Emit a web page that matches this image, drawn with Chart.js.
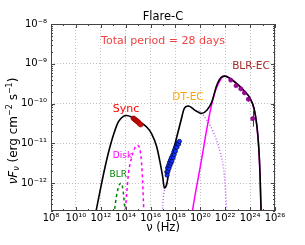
<!DOCTYPE html>
<html>
<head>
<meta charset="utf-8">
<script src="https://cdn.jsdelivr.net/npm/chart.js@4.4.1/dist/chart.umd.min.js"></script>
<style>
  html, body { margin: 0; padding: 0; background: #fff; }
  #wrap { width: 305px; height: 245px; }
</style>
</head>
<body>
<div id="wrap"><canvas id="c" width="305" height="245"></canvas></div>
<script>
// ---- data (log10 values) ----
const xTicks = [8, 10, 12, 14, 16, 18, 20, 22, 24, 26];
const yTicks = [-8, -9, -10, -11, -12];

// total model (black)
const totalNu = [11.50, 12.34, 12.88, 13.41, 13.81, 14.08, 14.49, 15.02, 15.69, 16.09, 16.50, 16.76, 16.98, 17.11, 17.30, 17.57, 17.97, 18.45, 18.70, 19.04, 19.58, 20.11, 20.52, 20.92, 21.32, 21.72, 21.99, 22.39, 22.93, 23.46, 24.00, 24.32, 24.54, 24.70, 24.80, 24.88, 24.92];
const totalF  = [-12.89, -11.60, -10.93, -10.46, -10.32, -10.30, -10.34, -10.44, -10.59, -10.76, -11.09, -11.47, -11.85, -12.12, -12.02, -11.51, -11.01, -10.42, -10.13, -10.06, -10.17, -10.25, -10.17, -9.96, -9.54, -9.33, -9.31, -9.37, -9.50, -9.66, -9.87, -10.13, -10.55, -11.13, -11.81, -12.71, -13.20];

// DT-EC component (dotted)
const dtNu = [16.92, 16.98, 17.06, 17.15, 17.30, 17.57, 17.97, 18.45, 18.70, 19.04, 19.58, 20.00, 20.52, 21.05, 21.59, 21.93, 22.12, 22.18];
const dtF  = [-12.95, -12.55, -12.28, -12.15, -12.05, -11.52, -11.01, -10.42, -10.13, -10.06, -10.17, -10.21, -10.42, -10.72, -11.22, -11.81, -12.71, -13.10];

// BLR-EC component (solid magenta)
const blrEcNu = [19.30, 19.36, 20.00, 20.78, 21.18, 21.50, 21.77, 21.99, 22.39, 22.93, 23.46, 24.00, 24.32, 24.54, 24.70, 24.80, 24.88, 24.92];
const blrEcF  = [-12.85, -12.71, -11.58, -10.21, -9.71, -9.47, -9.34, -9.31, -9.37, -9.50, -9.66, -9.87, -10.13, -10.55, -11.13, -11.81, -12.71, -13.20];

// Disk (dashed magenta)
const diskNu = [13.90, 14.00, 14.22, 14.49, 14.70, 14.92, 15.10, 15.22, 15.33, 15.42, 15.48];
const diskF  = [-12.95, -12.60, -11.77, -11.35, -11.14, -11.05, -11.10, -11.30, -11.75, -12.40, -12.95];

// BLR (dashed green)
const blrNu = [13.02, 13.10, 13.25, 13.42, 13.60, 13.75, 13.85, 13.95, 13.99];
const blrF  = [-12.95, -12.70, -12.35, -12.10, -12.00, -12.10, -12.35, -12.75, -12.95];

// observed data
const syncNu = [14.62, 14.70, 14.78, 14.86, 14.94, 15.02, 15.10, 15.20];
const syncF  = [-10.37, -10.39, -10.41, -10.43, -10.45, -10.47, -10.50, -10.53];

const xrayNu = [17.30, 17.33, 17.36, 17.40, 17.45, 17.48, 17.52, 17.56, 17.60, 17.64, 17.68, 17.72, 17.77, 17.82, 17.86, 17.90, 17.95, 18.00, 18.05, 18.12, 18.18, 18.25, 18.32];
const xrayF  = [-11.72, -11.80, -11.62, -11.70, -11.55, -11.63, -11.48, -11.56, -11.42, -11.50, -11.36, -11.44, -11.30, -11.36, -11.22, -11.28, -11.15, -11.20, -11.08, -11.10, -11.00, -11.02, -10.95];

const fermiNu  = [22.44, 22.87, 23.25, 23.54, 23.86, 24.21];
const fermiF   = [-9.41, -9.55, -9.63, -9.73, -9.89, -10.38];
const fermiErr = [0.03, 0.03, 0.04, 0.05, 0.06, 0.20];

// ---- helpers ----
const pts = (xs, ys) => xs.map((v, i) => ({x: v, y: ys[i]}));
const SUP = {'-': '\u207B', '0': '\u2070', '1': '\u00B9', '2': '\u00B2', '3': '\u00B3', '4': '\u2074', '5': '\u2075', '6': '\u2076', '7': '\u2077', '8': '\u2078', '9': '\u2079'};
const sup = v => String(v).split('').map(c => SUP[c] || c).join('');
const FONT = 'DejaVu Sans';

const lineDs = (data, color, width, dash) => ({
  data, showLine: true, pointRadius: 0, borderColor: color, backgroundColor: color,
  borderWidth: width, borderDash: dash || [], cubicInterpolationMode: 'monotone', fill: false
});

const decor = {
  id: 'decor',
  afterDatasetsDraw(chart) {
    const {ctx, scales: {x, y}} = chart;
    ctx.save();
    ctx.strokeStyle = '#990099';
    ctx.lineWidth = 1;
    fermiNu.forEach((nu, i) => {
      const px = Math.round(x.getPixelForValue(nu)) + 0.5;
      ctx.beginPath();
      ctx.moveTo(px, y.getPixelForValue(fermiF[i] + fermiErr[i]));
      ctx.lineTo(px, y.getPixelForValue(fermiF[i] - fermiErr[i]));
      ctx.stroke();
    });
    ctx.restore();
  },
  afterDraw(chart) {
    const {ctx, chartArea: a, scales: {x, y}} = chart;
    ctx.save();
    // frame
    ctx.strokeStyle = '#444';
    ctx.lineWidth = 1;
    ctx.strokeRect(a.left + 0.5, a.top + 0.5, a.right - a.left - 1, a.bottom - a.top - 1);
    // ticks (inside)
    ctx.beginPath();
    for (let d = 8; d <= 26; d++) {
      const px = Math.round(x.getPixelForValue(d)) + 0.5;
      const len = (d % 2 === 0) ? 4 : 2;
      ctx.moveTo(px, a.bottom); ctx.lineTo(px, a.bottom - len);
      ctx.moveTo(px, a.top); ctx.lineTo(px, a.top + len);
    }
    for (let d = -13; d <= -8; d++) {
      for (let k = 1; k <= 9; k++) {
        const v = d + Math.log10(k);
        if (v < y.min || v > y.max) continue;
        const py = Math.round(y.getPixelForValue(v)) + 0.5;
        const len = k === 1 ? 4 : 2;
        ctx.moveTo(a.left, py); ctx.lineTo(a.left + len, py);
        ctx.moveTo(a.right, py); ctx.lineTo(a.right - len, py);
      }
    }
    ctx.stroke();

    // texts
    ctx.textAlign = 'center';
    ctx.textBaseline = 'middle';
    const txt = (s, px, py, size, color) => {
      ctx.font = size + 'px "' + FONT + '"';
      ctx.fillStyle = color;
      ctx.fillText(s, px, py);
    };
    const cx = (a.left + a.right) / 2;
    txt('Flare-C', cx, 17, 11.5, '#000');
    txt('Total period = 28 days', cx, 41.5, 11, '#ee4444');
    txt('Sync', 126, 109, 11, '#ff0000');
    txt('Disk', 122.5, 155.5, 9, '#ff00ff');
    txt('BLR', 118.3, 174.3, 9, '#008000');
    txt('DT-EC', 188, 97.5, 10.5, '#ffa500');
    txt('BLR-EC', 251, 66.5, 10.5, '#a52a2a');

    // y axis label with sub/superscripts
    const runs = [
      ['\u03BD', 12, 0, 'italic '], ['F', 12, 0, 'italic '], ['\u03BD', 8, 2.5, 'italic '],
      [' (erg cm', 12, 0, ''], ['\u22122', 8, -4.5, ''], [' s', 12, 0, ''], ['\u22121', 8, -4.5, ''], [')', 12, 0, '']
    ];
    let total = 0;
    runs.forEach(r => { ctx.font = r[3] + r[1] + 'px "' + FONT + '"'; r.w = ctx.measureText(r[0]).width; total += r.w; });
    ctx.translate(12.5, 131);
    ctx.rotate(-Math.PI / 2);
    ctx.textAlign = 'left';
    ctx.textBaseline = 'alphabetic';
    ctx.fillStyle = '#000';
    let pos = -total / 2;
    runs.forEach(r => {
      ctx.font = r[3] + r[1] + 'px "' + FONT + '"';
      ctx.fillText(r[0], pos, 4 + r[2]);
      pos += r.w;
    });
    ctx.restore();
  }
};

new Chart(document.getElementById('c'), {
  type: 'scatter',
  data: {
    datasets: [
      {data: pts(syncNu, syncF), pointRadius: 2.4, backgroundColor: '#cc1100', borderColor: '#990000', borderWidth: 0.6},
      {data: pts(xrayNu, xrayF), pointRadius: 2.1, backgroundColor: '#1133ff', borderColor: '#000044', borderWidth: 0.7},
      {data: pts(fermiNu, fermiF), pointRadius: 2.1, backgroundColor: '#aa00aa', borderColor: '#660066', borderWidth: 0.6},
      lineDs(pts(totalNu, totalF), '#000000', 1.6),
      lineDs(pts(blrEcNu, blrEcF), '#ff00ff', 1.5),
      lineDs(pts(dtNu, dtF), '#c060f0', 1.5, [1, 2]),
      lineDs(pts(diskNu, diskF), '#ff00ff', 1.5, [3, 3]),
      lineDs(pts(blrNu, blrF), '#008000', 1.5, [3, 3])
    ]
  },
  options: {
    responsive: false,
    animation: false,
    events: [],
    layout: {padding: {top: 24, right: 30, left: 0, bottom: 0}},
    plugins: {legend: {display: false}, tooltip: {enabled: false}, title: {display: false}},
    scales: {
      x: {
        type: 'linear', min: 8, max: 26,
        afterFit: s => { s.height = 34; },
        afterBuildTicks: s => { s.ticks = xTicks.map(v => ({value: v})); },
        ticks: {callback: v => '10' + sup(v), font: {family: FONT, size: 10}, color: '#000', padding: 1, maxRotation: 0, autoSkip: false},
        grid: {color: '#b0b0b0', drawTicks: false, lineWidth: 0.8},
        border: {display: false, dash: [1, 2]},
        title: {display: true, text: '\u03BD (Hz)', font: {family: FONT, size: 11.5}, color: '#000', padding: {top: 0, bottom: 10}}
      },
      y: {
        type: 'linear', min: -12.7, max: -8,
        afterFit: s => { s.width = 51; },
        afterBuildTicks: s => { s.ticks = yTicks.map(v => ({value: v})); },
        ticks: {callback: v => '10' + sup(v), font: {family: FONT, size: 10}, color: '#000', padding: 4, autoSkip: false},
        grid: {color: '#b0b0b0', drawTicks: false, lineWidth: 0.8},
        border: {display: false, dash: [1, 2]},
        title: {display: false}
      }
    }
  },
  plugins: [decor]
});
</script>
</body>
</html>
